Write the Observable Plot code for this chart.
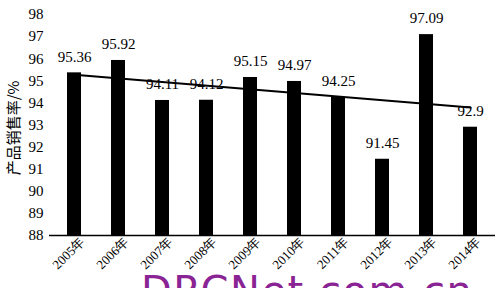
<!DOCTYPE html>
<html>
<head>
<meta charset="utf-8">
<script src="https://cdn.jsdelivr.net/npm/d3@7"></script>
<script src="https://cdn.jsdelivr.net/npm/@observablehq/plot@0.6"></script>
<style>
  html, body { margin: 0; padding: 0; background: #fff; }
  #wrap { position: relative; width: 495px; height: 288px; overflow: hidden; }
  #wm { position: absolute; left: 141px; top: 271px; font-family: "DejaVu Sans", sans-serif; font-size: 40px; line-height: 40px; color: #8a2494; white-space: nowrap; letter-spacing: 1.5px; }
</style>
</head>
<body>
<div id="wrap"><div id="wm">DRCNet.com.cn</div></div>
<script>
const years = ["2005年","2006年","2007年","2008年","2009年","2010年","2011年","2012年","2013年","2014年"];
const rates = [95.36, 95.92, 94.11, 94.12, 95.15, 94.97, 94.25, 91.45, 97.09, 92.9];
const labels = ["95.36","95.92","94.11","94.12","95.15","94.97","94.25","91.45","97.09","92.9"];
const yTicks = [88,89,90,91,92,93,94,95,96,97,98];
const yTitle = "产品销售率/%";

const data = years.map((y, i) => ({year: y, rate: rates[i], label: labels[i]}));

// linear trend (least squares) over category index
const n = rates.length;
const mx = (n - 1) / 2;
const my = d3.mean(rates);
const slope = d3.sum(rates, (v, i) => (i - mx) * (v - my)) / d3.sum(rates, (v, i) => (i - mx) ** 2);
const trend = [0, n - 1].map(i => ({year: years[i], t: my + slope * (i - mx)}));

const serif = "Liberation Serif";

const chart = Plot.plot({
  width: 495,
  height: 288,
  marginLeft: 49,
  marginRight: 0,
  marginTop: 14,
  marginBottom: 53,
  style: {fontFamily: serif, fontSize: "15px", color: "#000", background: "transparent"},
  x: {domain: years, paddingInner: 0.68, paddingOuter: 0.31, label: null},
  y: {domain: [88, 98], label: null},
  marks: [
    Plot.barY(data, {x: "year", y1: 88, y2: "rate", fill: "#000"}),
    Plot.line(trend, {x: "year", y: "t", stroke: "#000", strokeWidth: 2}),
    Plot.text(data, {x: "year", y: "rate", text: "label", dy: -16, fontSize: 15, fontFamily: serif, fill: "#000"}),
    Plot.ruleY([88], {stroke: "#000", strokeWidth: 1.5}),
    Plot.axisY({ticks: yTicks, tickSize: 0, tickPadding: 6, line: true, fontSize: 15, fontFamily: serif, label: null}),
    Plot.axisX({tickSize: 0, tickRotate: -45, fontSize: 13, fontFamily: serif, tickPadding: 4, dx: 8, label: null}),
    Plot.text([yTitle], {frameAnchor: "left", textAnchor: "middle", dx: -35, dy: 3, rotate: -90, fontSize: 15, fontFamily: "Noto Sans CJK SC", fill: "#000"})
  ]
});
document.getElementById("wrap").prepend(chart);
</script>
</body>
</html>
